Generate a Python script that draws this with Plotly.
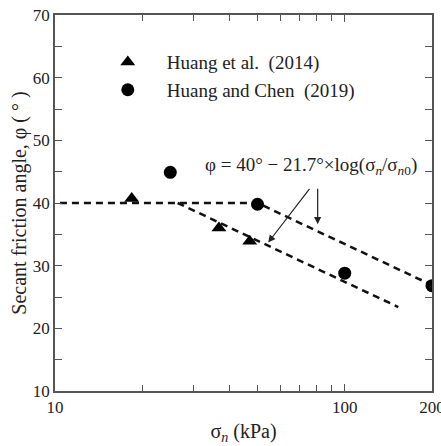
import plotly.graph_objects as go

# Measured secant friction angles
huang2014_sigma = [18.4, 36.8, 47.0]
huang2014_phi = [40.7, 36.0, 33.9]

huang2019_sigma = [25.0, 50.0, 100.0, 200.0]
huang2019_phi = [44.9, 39.8, 28.8, 26.8]

# Bilinear fits: phi = 40 - 21.7*log(sigma/sigma0), capped at 40
fit_a_sigma = [26.5, 153.0]
fit_a_phi = [40.0, 23.4]
fit_b_sigma = [10.4, 50.0, 200.0]
fit_b_phi = [40.0, 40.0, 26.9]

x_tick_vals = [10, 100, 200]
x_tick_text = ["10", "100", "200"]
x_minor_vals = [20, 30, 40, 50, 60, 70, 80, 90]

FONT = '"Liberation Serif", "Times New Roman", Times, serif'
INK = "#222222"
AXIS = "#555555"

fig = go.Figure()

dash_line = dict(color="#111111", width=2.5, dash="7px,5px")
fig.add_trace(go.Scatter(x=fit_b_sigma, y=fit_b_phi, mode="lines",
                         line=dash_line, showlegend=False, hoverinfo="skip"))
fig.add_trace(go.Scatter(x=fit_a_sigma, y=fit_a_phi, mode="lines",
                         line=dash_line, showlegend=False, hoverinfo="skip"))

fig.add_trace(go.Scatter(
    x=huang2014_sigma, y=huang2014_phi, mode="markers",
    name="&nbsp;&nbsp;&nbsp;&nbsp;Huang et al.&nbsp;&nbsp;(2014)",
    marker=dict(symbol="triangle-up", size=13, color="black"),
))
fig.add_trace(go.Scatter(
    x=huang2019_sigma, y=huang2019_phi, mode="markers",
    name="&nbsp;&nbsp;&nbsp;&nbsp;Huang and Chen&nbsp;&nbsp;(2019)",
    marker=dict(symbol="circle", size=13, color="black"),
))

# Equation label with two arrows pointing at the fits
fig.add_annotation(
    x=1.8834, y=45.95, xref="x", yref="y",
    text="φ = 40° − 21.7°×log(σ<sub><i>n</i></sub>/σ<sub><i>n</i>0</sub>)",
    showarrow=False, font=dict(family=FONT, size=19, color=INK),
)
fig.add_annotation(
    x=1.736, y=33.7, ax=1.8824, ay=42.5, xref="x", yref="y", axref="x", ayref="y",
    text="", showarrow=True, arrowhead=2, arrowsize=1.2, arrowwidth=1.2, arrowcolor="#222",
)
fig.add_annotation(
    x=1.9066, y=36.6, ax=1.9066, ay=42.5, xref="x", yref="y", axref="x", ayref="y",
    text="", showarrow=True, arrowhead=2, arrowsize=1.2, arrowwidth=1.2, arrowcolor="#222",
)

fig.update_xaxes(
    type="log", range=[1, 2.3012], automargin=False,
    tickmode="array", tickvals=x_tick_vals, ticktext=x_tick_text,
    ticklabeloverflow="allow",
    ticks="inside", ticklen=7, tickwidth=1, tickcolor=AXIS,
    minor=dict(tickmode="array", tickvals=x_minor_vals, ticks="inside",
               ticklen=6, tickwidth=1, tickcolor=AXIS),
    showline=True, linecolor=AXIS, linewidth=1.5, mirror="ticks",
    showgrid=False, zeroline=False,
    tickfont=dict(family=FONT, size=17, color=INK),
    title=dict(text="σ<sub><i>n</i></sub> (kPa)", standoff=8,
               font=dict(family=FONT, size=20, color=INK)),
)
fig.update_yaxes(
    range=[10, 70], dtick=10, tick0=10, automargin=False,
    ticks="inside", ticklen=7, tickwidth=1, tickcolor=AXIS,
    minor=dict(dtick=5, ticks="inside", ticklen=7, tickwidth=1, tickcolor=AXIS),
    showline=True, linecolor=AXIS, linewidth=1.5, mirror="ticks",
    showgrid=False, zeroline=False,
    tickfont=dict(family=FONT, size=17, color=INK),
    title=dict(text="Secant friction angle, φ ( ° )", standoff=1,
               font=dict(family=FONT, size=20, color=INK)),
)

fig.update_layout(
    width=441, height=446,
    margin=dict(l=55, r=9, t=15, b=55),
    plot_bgcolor="white", paper_bgcolor="white",
    font=dict(family=FONT, color=INK),
    legend=dict(x=0.14, y=0.925, xanchor="left", yanchor="top",
                bgcolor="rgba(0,0,0,0)", font=dict(family=FONT, size=19, color=INK),
                itemwidth=30, tracegroupgap=0),
)

fig.write_html("out.html")
